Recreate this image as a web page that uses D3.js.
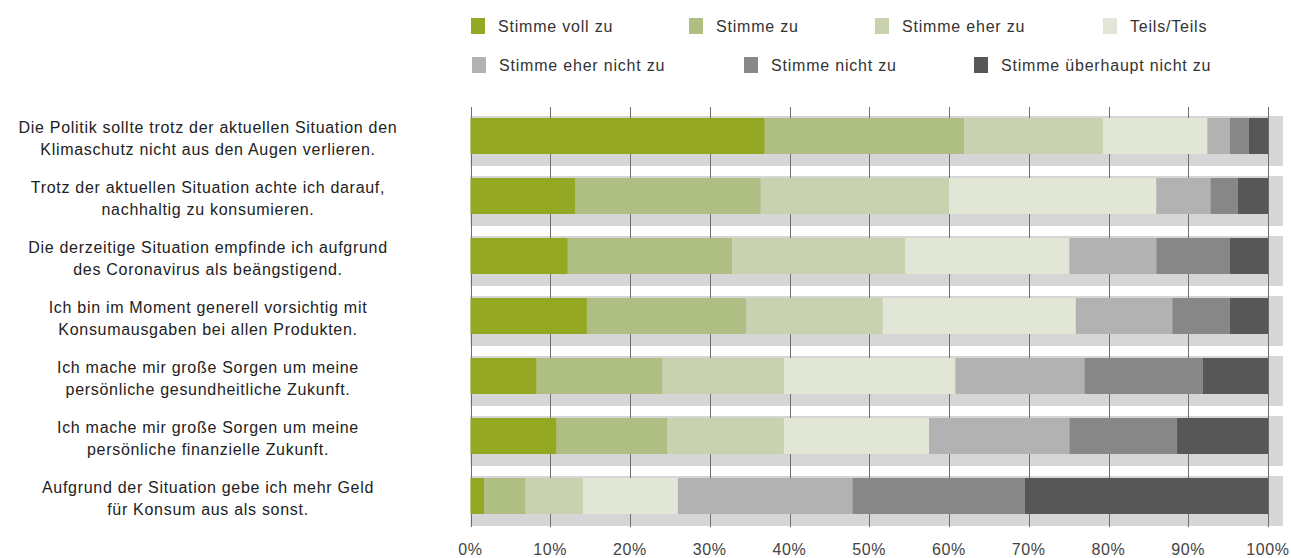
<!DOCTYPE html>
<html><head><meta charset="utf-8">
<script src="https://cdn.jsdelivr.net/npm/d3@7"></script>
<style>body{margin:0;background:#fff}svg{display:block}text{font-family:"Liberation Sans",Arial,sans-serif}</style>
</head><body><svg id="c" width="1291" height="558"></svg>
<script>
const categories = [
  ["Die Politik sollte trotz der aktuellen Situation den","Klimaschutz nicht aus den Augen verlieren."],
  ["Trotz der aktuellen Situation achte ich darauf,","nachhaltig zu konsumieren."],
  ["Die derzeitige Situation empfinde ich aufgrund","des Coronavirus als beängstigend."],
  ["Ich bin im Moment generell vorsichtig mit","Konsumausgaben bei allen Produkten."],
  ["Ich mache mir große Sorgen um meine","persönliche gesundheitliche Zukunft."],
  ["Ich mache mir große Sorgen um meine","persönliche finanzielle Zukunft."],
  ["Aufgrund der Situation gebe ich mehr Geld","für Konsum aus als sonst."]
];
const seriesNames = ["Stimme voll zu","Stimme zu","Stimme eher zu","Teils/Teils","Stimme eher nicht zu","Stimme nicht zu","Stimme überhaupt nicht zu"];
const stimmeVollZu      = [36.9,13.1,12.2,14.6, 8.3,10.8, 1.7];
const stimmeZu          = [25.0,23.3,20.6,20.0,15.8,13.9, 5.2];
const stimmeEherZu      = [17.4,23.6,21.7,17.1,15.2,14.6, 7.2];
const teilsTeils        = [13.1,26.0,20.6,24.2,21.5,18.2,11.9];
const stimmeEherNichtZu = [ 2.8, 6.8,10.9,12.1,16.2,17.6,21.9];
const stimmeNichtZu     = [ 2.4, 3.4, 9.2, 7.2,14.8,13.5,21.6];
const stimmeUeberhauptNichtZu = [2.4,3.8,4.8,4.8,8.2,11.4,30.5];
const tickValues = [0,10,20,30,40,50,60,70,80,90,100];
const colors = ["#94a824","#afbe83","#c8d2ae","#e2e6d7","#b2b2b2","#878787","#575757"];

const seriesValues = [stimmeVollZu,stimmeZu,stimmeEherZu,teilsTeils,stimmeEherNichtZu,stimmeNichtZu,stimmeUeberhauptNichtZu];
const rows = categories.map((c,i)=>{
  const o = {key:i};
  seriesNames.forEach((s,j)=>o[s]=seriesValues[j][i]);
  return o;
});
const stack = d3.stack().keys(seriesNames).offset(d3.stackOffsetExpand)(rows);

const svg = d3.select("#c");
const x = d3.scaleLinear().domain([0,1]).range([470.5,1268]);
const y = d3.scaleBand().domain(d3.range(categories.length)).range([111,531]).paddingInner(1/6).paddingOuter(1/12);

// gray background bands
svg.append("g").selectAll("rect").data(d3.range(categories.length)).join("rect")
  .attr("x",x(0)).attr("width",x(1)-x(0)+15)
  .attr("y",d=>y(d)).attr("height",y.bandwidth()).attr("fill","#d6d6d6");

// grid lines
svg.append("g").selectAll("line").data(tickValues).join("line")
  .attr("x1",d=>Math.round(x(d/100))+0.5).attr("x2",d=>Math.round(x(d/100))+0.5)
  .attr("y1",107).attr("y2",527).attr("stroke","#6e6e6e").attr("stroke-width",1);

// bars
svg.append("g").selectAll("g").data(stack).join("g")
  .attr("fill",(d,i)=>colors[i])
  .selectAll("rect").data(d=>d).join("rect")
  .attr("x",d=>x(d[0])).attr("width",d=>x(d[1])-x(d[0]))
  .attr("y",(d,i)=>y(i)+2).attr("height",36);

// axis labels
svg.append("g").selectAll("text").data(tickValues).join("text")
  .attr("x",d=>x(d/100)).attr("y",555)
  .attr("text-anchor","middle").attr("font-size",16).attr("letter-spacing",0.6).attr("fill","#444")
  .text(d=>d+"%");

// category labels
const lab = svg.append("g").selectAll("text").data(categories).join("text")
  .attr("text-anchor","middle").attr("font-size",16).attr("letter-spacing",0.7).attr("fill","#222");
lab.each(function(d,i){
  const t = d3.select(this);
  const cy = y(i)+22;
  d.forEach((line,k)=>{
    t.append("tspan").attr("x",208).attr("y",cy-5+k*21.5).text(line);
  });
});

// legend
const legendPos = [[471,26],[689,26],[875,26],[1103,26],[472,65],[744,65],[974,65]];
const lg = svg.append("g").selectAll("g").data(seriesNames).join("g")
  .attr("transform",(d,i)=>`translate(${legendPos[i][0]},${legendPos[i][1]})`);
lg.append("rect").attr("x",0).attr("y",-8).attr("width",14).attr("height",16).attr("fill",(d,i)=>colors[i]);
lg.append("text").attr("x",27).attr("y",5.5).attr("font-size",16).attr("letter-spacing",0.8).attr("fill","#333").text(d=>d);
</script></body></html>
